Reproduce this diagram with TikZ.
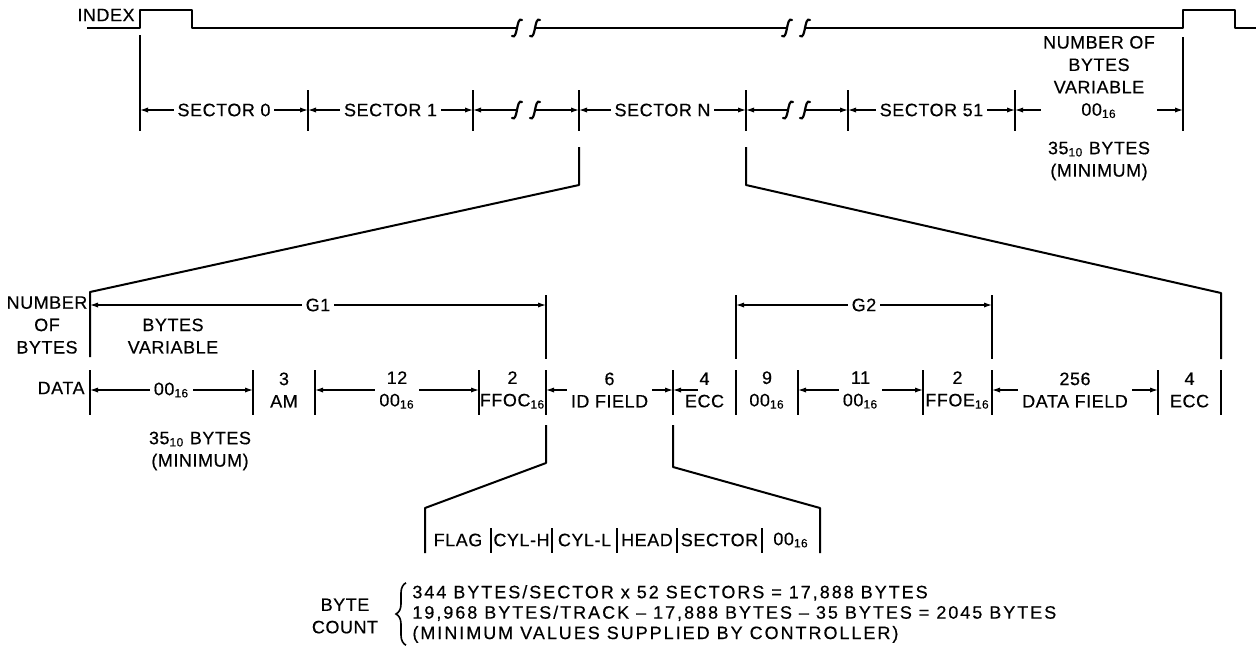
\documentclass[tikz,border=0pt]{standalone}
\usepackage{fontspec}
\setmainfont{Liberation Sans}[LetterSpace=3,FakeBold=0.4]
\usetikzlibrary{arrows.meta,decorations.pathreplacing}
\newcommand{\hexn}[1]{#1\textsubscript{16}}
\newcommand{\decn}[1]{#1\textsubscript{10}}
\tikzset{
  squig/.pic={\draw[line width=1.1pt,line cap=round] (-5,8) .. controls (-2,10) and (-1,5) .. (0,0) .. controls (1,-5) and (2,-10) .. (5,-8);}
}
\begin{document}
\begin{tikzpicture}[x=0.5pt,y=-0.5pt,
  lbl/.style={font=\fontsize{9}{11.2}\selectfont, inner sep=1pt, align=center},
  mask/.style={lbl, fill=white, inner sep=2pt},
  sig/.style={line width=1pt, line join=round},
  tick/.style={line width=1pt},
  dim/.style={line width=0.6pt, >={Latex[length=4pt,width=2.6pt]}}]
\useasboundingbox (0,0) rectangle (1256,654);

% index pulse
\node[lbl,anchor=east] (index) at (137,15) {INDEX};
\draw[sig] (87,28) -- (140,28) -- (140,10) -- (192,10) -- (192,28) -- (517,28);
\draw[sig] (535,28) -- (787,28);
\draw[sig] (805,28) -- (1183,28) -- (1183,10) -- (1235,10) -- (1235,28) -- (1256,28);
\foreach \x in {517,535,787,805} \pic at (\x,28) {squig};

% sectors
\foreach \x/\n/\top in {140/a/35,308/b/90,473/c/90,579/d/90,746/e/90,848/f/90,1015/g/90,1183/h/37}{
  \draw[tick] (\x,\top) -- (\x,131);
  \coordinate (s\n) at (\x,110);
}
\foreach \x/\n in {517/c1,535/c2,788/e1,805/e2}{
  \coordinate (\n) at (\x,110);
  \pic at (\x,110) {squig};
}
\draw[dim,<->] (sa) -- node[mask] (sec0) {SECTOR 0} (sb);
\draw[dim,<->] (sb) -- node[mask] (sec1) {SECTOR 1} (sc);
\draw[dim,<-] (sc) -- (c1);
\draw[dim,->] (c2) -- (sd);
\draw[dim,<->] (sd) -- node[mask] (secn) {SECTOR N} (se);
\draw[dim,<-] (se) -- (e1);
\draw[dim,->] (e2) -- (sf);
\draw[dim,<->] (sf) -- node[mask] (sec51) {SECTOR 51} (sg);
\node[lbl] (gapv) at (1099,77) {NUMBER OF\\BYTES\\VARIABLE\\\hexn{00}};
\draw[dim,<-] (sg) -- (sg -| gapv.west);
\draw[dim,->] (sh -| gapv.east) -- (sh);
\node[lbl] (gapmin) at (1099,161) {\decn{35} BYTES\\(MINIMUM)};

% sector N expanded
\coordinate (nl0) at (579,147); \coordinate (nl1) at (579,185);
\coordinate (nl2) at (90,292);  \coordinate (nl3) at (90,357);
\coordinate (nr0) at (746,147); \coordinate (nr1) at (746,185);
\coordinate (nr2) at (1221,293); \coordinate (nr3) at (1221,359);
\draw[sig] (nl0) -- (nl1) -- (nl2) -- (nl3);
\draw[sig] (nr0) -- (nr1) -- (nr2) -- (nr3);

% gaps
\foreach \x/\n in {546/p,736/q,992/r}{
  \draw[tick] (\x,295) -- (\x,359);
  \coordinate (g\n) at (\x,305);
}
\coordinate (g0) at (90,305);
\draw[dim,<->] (g0) -- node[mask] (g1) {G1} (gp);
\draw[dim,<->] (gq) -- node[mask] (g2) {G2} (gr);
\node[lbl] (nob) at (47,325) {NUMBER\\OF\\BYTES};
\node[lbl] (bvar) at (173,336) {BYTES\\VARIABLE};

% sector fields
\foreach \x/\n in {90/0,253/1,315/2,479/3,546/4,673/5,736/6,798/7,923/8,992/9,1158/10,1221/11}{
  \draw[tick] (\x,370) -- (\x,415);
  \coordinate (d\n) at (\x,390);
}
\node[lbl,anchor=east] (data) at (87,388) {DATA};
\draw[dim,<->] (d0) -- node[mask] (f0) {\hexn{00}} (d1);
\path (d1) -- node[lbl] (f1) {3\\AM} (d2);
\draw[dim,<->] (d2) -- node[mask] (f2) {12\\\hexn{00}} (d3);
\path (d3) -- node[lbl] (f3) {2\\\hexn{FFOC}} (d4);
\draw[dim,<->] (d4) -- node[mask] (f4) {6\\ID FIELD} (d5);
\path (d5) -- node[lbl] (f5) {4\\ECC} (d6);
\draw[dim,<-] (d5) -- ++(25,0);
\path (d6) -- node[lbl] (f6) {9\\\hexn{00}} (d7);
\draw[dim,<->] (d7) -- node[mask] (f7) {11\\\hexn{00}} (d8);
\path (d8) -- node[lbl] (f8) {2\\\hexn{FFOE}} (d9);
\draw[dim,<->] (d9) -- node[mask] (f9) {256\\DATA FIELD} (d10);
\path (d10) -- node[lbl] (f10) {4\\ECC} (d11);
\node[lbl] (dmin) at (200,451) {\decn{35} BYTES\\(MINIMUM)};

% id field expanded
\coordinate (il0) at (546,425); \coordinate (il1) at (546,463);
\coordinate (il2) at (425,508); \coordinate (il3) at (425,553);
\coordinate (ir0) at (673,425); \coordinate (ir1) at (673,467);
\coordinate (ir2) at (820,508); \coordinate (ir3) at (820,553);
\draw[sig] (il0) -- (il1) -- (il2) -- (il3);
\draw[sig] (ir0) -- (ir1) -- (ir2) -- (ir3);
\foreach \x/\n in {425/0,491/1,552/2,617/3,677/4,762/5,820/6}{
  \coordinate (i\n) at (\x,540);
}
\foreach \x in {491,552,617,677,762} \draw[tick] (\x,528) -- (\x,553);
\foreach \a/\b/\t in {0/1/FLAG,1/2/CYL-H,2/3/CYL-L,3/4/HEAD,4/5/SECTOR,5/6/\hexn{00}}
  \path (i\a) -- node[lbl] (id\a) {\t} (i\b);

% byte count
\node[lbl] (bc) at (345,616) {BYTE\\COUNT};
\node[lbl,align=left,anchor=west,font=\fontsize{9}{10.2}\selectfont\addfontfeature{LetterSpace=11}] (bcnt) at (410,614)
  {344 BYTES/SECTOR x 52 SECTORS = 17,888 BYTES\\
   19,968 BYTES/TRACK -- 17,888 BYTES -- 35 BYTES = 2045 BYTES\\
   (MINIMUM VALUES SUPPLIED BY CONTROLLER)};
\draw[line width=0.8pt,decorate,decoration={brace,amplitude=5pt}]
  ([xshift=-2pt]bcnt.south west) -- ([xshift=-2pt]bcnt.north west);
\end{tikzpicture}
\end{document}
